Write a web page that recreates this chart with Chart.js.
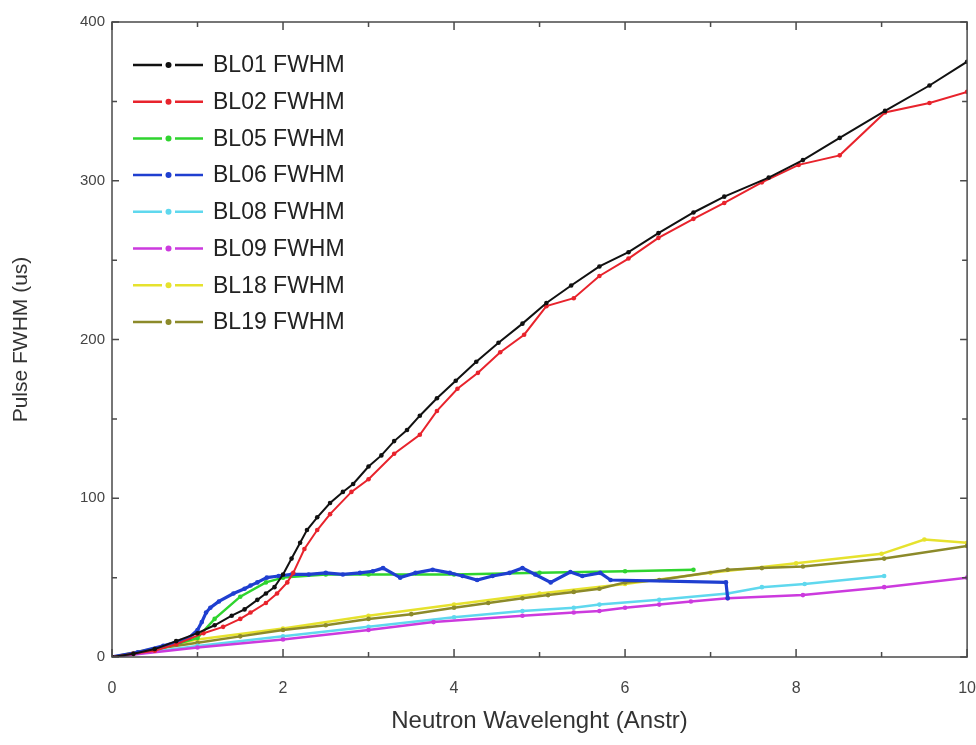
<!DOCTYPE html>
<html>
<head>
<meta charset="utf-8">
<title>Pulse FWHM</title>
<script src="https://cdn.jsdelivr.net/npm/chart.js@4/dist/chart.umd.min.js"></script>
<style>
  html, body { margin: 0; padding: 0; background: #fff; overflow: hidden; }
  #wrap { width: 976px; height: 745px; overflow: hidden; }
  #pulse-chart { display: block; }
</style>
</head>
<body>
<div id="wrap"><canvas id="pulse-chart" width="998" height="745"></canvas></div>
<script>
// values (x in Angstrom, y in microseconds)
const bl01X = [0, 0.25, 0.5, 0.75, 1.0, 1.2, 1.4, 1.55, 1.7, 1.8, 1.9, 2.0, 2.1, 2.2, 2.28, 2.4, 2.55, 2.7, 2.82, 3.0, 3.15, 3.3, 3.45, 3.6, 3.8, 4.02, 4.26, 4.52, 4.8, 5.08, 5.37, 5.7, 6.04, 6.39, 6.8, 7.16, 7.68, 8.08, 8.51, 9.04, 9.56, 10];
const bl01Y = [0, 2, 5, 10, 15, 20, 26, 30, 36, 40, 44, 52, 62, 72, 80, 88, 97, 104, 109, 120, 127, 136, 143, 152, 163, 174, 186, 198, 210, 223, 234, 246, 255, 267, 280, 290, 302, 313, 327, 344, 360, 375];

const bl02X = [0, 0.25, 0.5, 0.75, 1.07, 1.3, 1.5, 1.62, 1.8, 1.93, 2.05, 2.12, 2.25, 2.4, 2.55, 2.8, 3.0, 3.3, 3.6, 3.8, 4.04, 4.28, 4.54, 4.82, 5.08, 5.4, 5.7, 6.04, 6.39, 6.8, 7.16, 7.6, 8.03, 8.51, 9.04, 9.56, 10];
const bl02Y = [0, 2, 4, 8, 15, 19, 24, 28, 34, 40, 47, 53, 68, 80, 90, 104, 112, 128, 140, 155, 169, 179, 192, 203, 221, 226, 240, 251, 264, 276, 286, 299, 310, 316, 343, 349, 356];

const bl05X = [0, 0.5, 1.0, 1.2, 1.5, 1.8, 2.0, 2.5, 3.0, 4.0, 5.0, 6.0, 6.8];
const bl05Y = [0, 4, 12, 24, 38, 47, 50, 52, 52, 52, 53, 54, 55];

const bl06X = [0, 0.3, 0.6, 0.8, 0.9, 1.0, 1.05, 1.1, 1.15, 1.25, 1.42, 1.55, 1.62, 1.7, 1.81, 1.95, 2.1, 2.3, 2.5, 2.7, 2.9, 3.05, 3.17, 3.37, 3.55, 3.75, 3.95, 4.1, 4.27, 4.45, 4.65, 4.8, 4.95, 5.13, 5.36, 5.5, 5.71, 5.83, 7.18, 7.2];
const bl06Y = [0, 3, 7, 10, 12, 17, 22, 28, 31, 35, 40, 43, 45, 47, 50, 51, 52, 52, 53, 52, 53, 54, 56, 50, 53, 55, 53, 51, 48.5, 51, 53, 56, 52, 47, 53.5, 51, 53, 48.5, 47, 37];

const bl08X = [0, 1, 2, 3, 4, 4.8, 5.4, 5.7, 6.4, 7.2, 7.6, 8.1, 9.03];
const bl08Y = [0, 7, 13, 19, 25, 29, 31, 33, 36, 40, 44, 46, 51];

const bl09X = [0, 1, 2, 3, 3.76, 4.8, 5.4, 5.7, 6, 6.4, 6.77, 7.2, 8.08, 9.03, 10];
const bl09Y = [0, 6, 11, 17, 22, 26, 28, 29, 31, 33, 35, 37, 39, 44, 50];

const bl18X = [0, 1, 2, 3, 4, 5, 6, 7, 8, 9, 9.5, 10];
const bl18Y = [0, 11, 18, 26, 33, 40, 46, 53, 59, 65, 74, 72];

const bl19X = [0, 0.5, 1, 1.5, 2, 2.5, 3, 3.5, 4, 4.4, 4.8, 5.1, 5.4, 5.7, 6, 6.4, 7.2, 7.6, 8.08, 9.03, 10];
const bl19Y = [0, 5, 9, 13, 17, 20, 24, 27, 31, 34, 37, 39, 41, 43, 47, 48.5, 55, 56, 57, 62, 70];

const seriesNames = ['BL01 FWHM', 'BL02 FWHM', 'BL05 FWHM', 'BL06 FWHM', 'BL08 FWHM', 'BL09 FWHM', 'BL18 FWHM', 'BL19 FWHM'];
const seriesColors = ['#111111', '#e8232c', '#2fd42f', '#1f3fd0', '#5fd8ee', '#cc3ade', '#e6e22e', '#8c8a2a'];

const xTicks = [0, 2, 4, 6, 8, 10];
const yTicks = [0, 100, 200, 300, 400];

const FONT = "'Liberation Sans', Arial, sans-serif";

function toPoints(xs, ys) {
  return xs.map((x, i) => ({ x: x, y: ys[i] }));
}

const allSeries = [
  [bl01X, bl01Y], [bl02X, bl02Y], [bl05X, bl05Y], [bl06X, bl06Y],
  [bl08X, bl08Y], [bl09X, bl09Y], [bl18X, bl18Y], [bl19X, bl19Y]
];
// drawing order: lower number ends up on top
const drawOrder = [1, 2, 6, 3, 5, 4, 8, 7];
const lineWidths = [2, 2, 2.5, 3.2, 2.5, 2.5, 2.5, 2.5];

const datasets = allSeries.map((s, i) => ({
  label: seriesNames[i],
  data: toPoints(s[0], s[1]),
  borderColor: seriesColors[i],
  backgroundColor: seriesColors[i],
  borderWidth: lineWidths[i],
  pointRadius: 2.3,
  pointBorderWidth: 0,
  pointHoverRadius: 0,
  tension: 0,
  order: drawOrder[i]
}));

// frame, inward ticks and the legend drawn inside the plot box
const frameAndLegend = {
  id: 'frameAndLegend',
  afterDraw(chart) {
    const ctx = chart.ctx;
    const a = chart.chartArea;
    const xs = chart.scales.x;
    const ys = chart.scales.y;
    ctx.save();
    ctx.strokeStyle = '#4a4a4a';
    ctx.lineWidth = 1.5;
    ctx.strokeRect(a.left, a.top, a.right - a.left, a.bottom - a.top);

    ctx.beginPath();
    xs.ticks.forEach(t => {
      const px = xs.getPixelForValue(t.value);
      const len = xTicks.includes(t.value) ? 8 : 5;
      ctx.moveTo(px, a.bottom); ctx.lineTo(px, a.bottom - len);
      ctx.moveTo(px, a.top); ctx.lineTo(px, a.top + len);
    });
    ys.ticks.forEach(t => {
      const py = ys.getPixelForValue(t.value);
      const len = yTicks.includes(t.value) ? 7 : 5;
      ctx.moveTo(a.left, py); ctx.lineTo(a.left + len, py);
      ctx.moveTo(a.right, py); ctx.lineTo(a.right - len, py);
    });
    ctx.stroke();

    // legend
    ctx.font = '23px ' + FONT;
    ctx.textBaseline = 'middle';
    ctx.textAlign = 'left';
    chart.data.datasets.forEach((ds, i) => {
      const y = 65 + 36.7 * i;
      ctx.strokeStyle = ds.borderColor;
      ctx.lineWidth = 2.5;
      ctx.beginPath();
      ctx.moveTo(133, y); ctx.lineTo(162, y);
      ctx.moveTo(175, y); ctx.lineTo(203, y);
      ctx.stroke();
      ctx.fillStyle = ds.borderColor;
      ctx.beginPath();
      ctx.arc(168.5, y, 3, 0, Math.PI * 2);
      ctx.fill();
      ctx.fillStyle = '#222';
      ctx.fillText(ds.label, 213, y + 1);
    });
    ctx.restore();
  }
};

let pulseChart = new Chart(document.getElementById('pulse-chart'), {
  type: 'line',
  data: { datasets: datasets },
  options: {
    responsive: false,
    animation: false,
    events: [],
    layout: { padding: { top: 22, right: 16, bottom: 0, left: 0 } },
    plugins: {
      legend: { display: false },
      tooltip: { enabled: false }
    },
    scales: {
      x: {
        type: 'linear',
        min: 0,
        max: 10,
        grid: { display: false, drawTicks: false },
        border: { display: false },
        ticks: {
          stepSize: 1,
          autoSkip: false,
          maxRotation: 0,
          padding: 22,
          color: '#444',
          font: { family: FONT, size: 16 },
          callback: v => xTicks.includes(v) ? String(v) : ''
        },
        title: {
          display: true,
          text: 'Neutron Wavelenght (Anstr)',
          color: '#333',
          font: { family: FONT, size: 24 },
          padding: { top: 0, bottom: 9 }
        },
        afterFit: scale => { scale.height = 88; }
      },
      y: {
        min: 0,
        max: 400,
        grid: { display: false, drawTicks: false },
        border: { display: false },
        ticks: {
          stepSize: 50,
          autoSkip: false,
          padding: 7,
          color: '#444',
          font: { family: FONT, size: 15 },
          callback: v => yTicks.includes(v) ? String(v) : ''
        },
        title: {
          display: true,
          text: 'Pulse FWHM (us)',
          color: '#333',
          font: { family: FONT, size: 21 },
          padding: { top: 9, bottom: 0 }
        },
        afterFit: scale => { scale.width = 112; }
      }
    }
  },
  plugins: [frameAndLegend]
});
</script>
</body>
</html>
